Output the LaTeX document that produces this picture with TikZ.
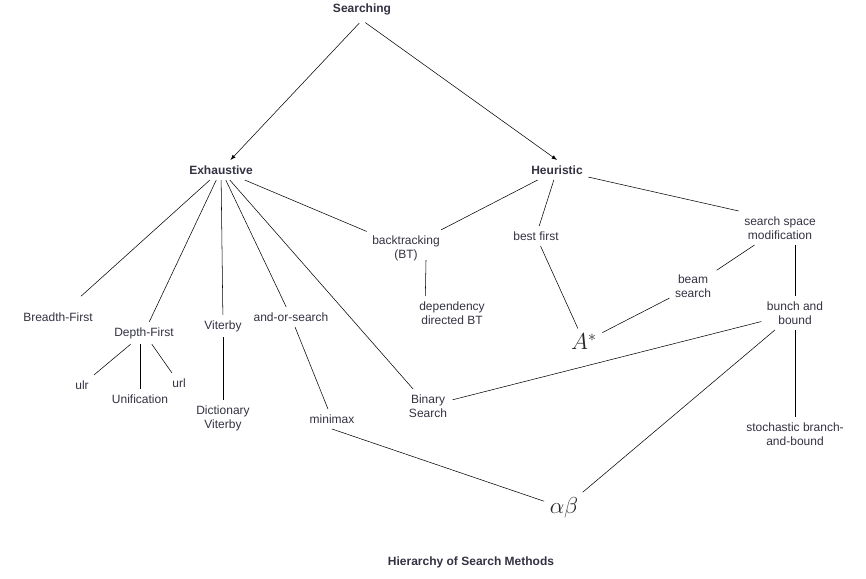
\documentclass[tikz,border=0pt]{standalone}
\usepackage{fontspec}
\setsansfont{Liberation Sans}
\definecolor{inkgray}{RGB}{50,50,66}
\begin{document}
\begin{tikzpicture}[x=0.75pt,y=-0.75pt]
        \useasboundingbox (0,0) rectangle (866,578);
        \tikzstyle{every node}=[font=\sffamily\fontsize{9}{10.5}\selectfont,text=inkgray,align=center,inner sep=4pt]
        \tikzstyle{head}=[font=\sffamily\bfseries\fontsize{9}{10.5}\selectfont]
        \tikzstyle{big}=[font=\LARGE,text=black!85]
        % top levels
        \node[head] (search)  at (362,  9) {Searching};
        \node[head] (exh)     at (221,170) {Exhaustive};
        \node[head] (heur)    at (557,170) {Heuristic};
        % exhaustive methods
        \node (breadth) at ( 58,317) {Breadth-First};
        \node (depth)   at (144,333) {Depth-First};
        \node (viterby) at (223,326) {Viterby};
        \node (andor)   at (291,317) {and-or-search};
        \node (bt)      at (406,248) {backtracking\\(BT)};
        \node (ulr)     at ( 82,385) {ulr};
        \node (unif)    at (140,399) {Unification};
        \node (url)     at (179,383) {url};
        \node (dict)    at (223,418) {Dictionary\\Viterby};
        \node (minimax) at (332,419) {minimax};
        \node (binary)  at (428,406) {Binary\\Search};
        \node (depbt)   at (452,313) {dependency\\directed BT};
        % heuristic methods
        \node (best)    at (536,236) {best first};
        \node (ssm)     at (780,228) {search space\\modification};
        \node (beam)    at (693,286) {beam\\search};
        \node (bunch)   at (795,313) {bunch and\\bound};
        \node (stoch)   at (795,434) {stochastic branch-\\and-bound};
        \node[big] (astar) at (584,342) {$A^{*}$};
        \node[big] (ab)    at (564,508) {$\alpha\beta$};
        \node[head] (title) at (471,562) {Hierarchy of Search Methods};
        % connectors
        \draw[-latex,shorten <=3pt] (search.south) -- (exh);
        \draw[-latex,shorten <=3pt] (search.south) -- (heur.north);
        \draw[shorten >=12pt] (exh) -- (breadth);
        \draw (exh) -- (depth);
        \draw (exh) -- (viterby);
        \draw (exh) -- (andor);
        \draw (exh) -- (binary);
        \draw (exh) -- (bt);
        \draw (heur) -- (bt);
        \draw (heur) -- (best);
        \draw (heur) -- (ssm.north west);
        \draw ([shift={(20,-6)}]bt.south) -- ([xshift=-20]depbt.north);
        \draw (best) -- (astar);
        \draw (ssm) -- (beam);
        \draw (ssm.south -| bunch.north) -- (bunch.north);
        \draw (beam) -- (astar);
        \draw (bunch) -- (binary);
        \draw (bunch) -- (ab);
        \draw (bunch) -- (stoch);
        \draw (depth) -- (ulr);
        \draw (depth.south -| unif.north) -- (unif.north);
        \draw (depth) -- (url);
        \draw (viterby) -- (dict);
        \draw (andor) -- (minimax);
        \draw (minimax.south) -- (ab);
    \end{tikzpicture}
\end{document}
